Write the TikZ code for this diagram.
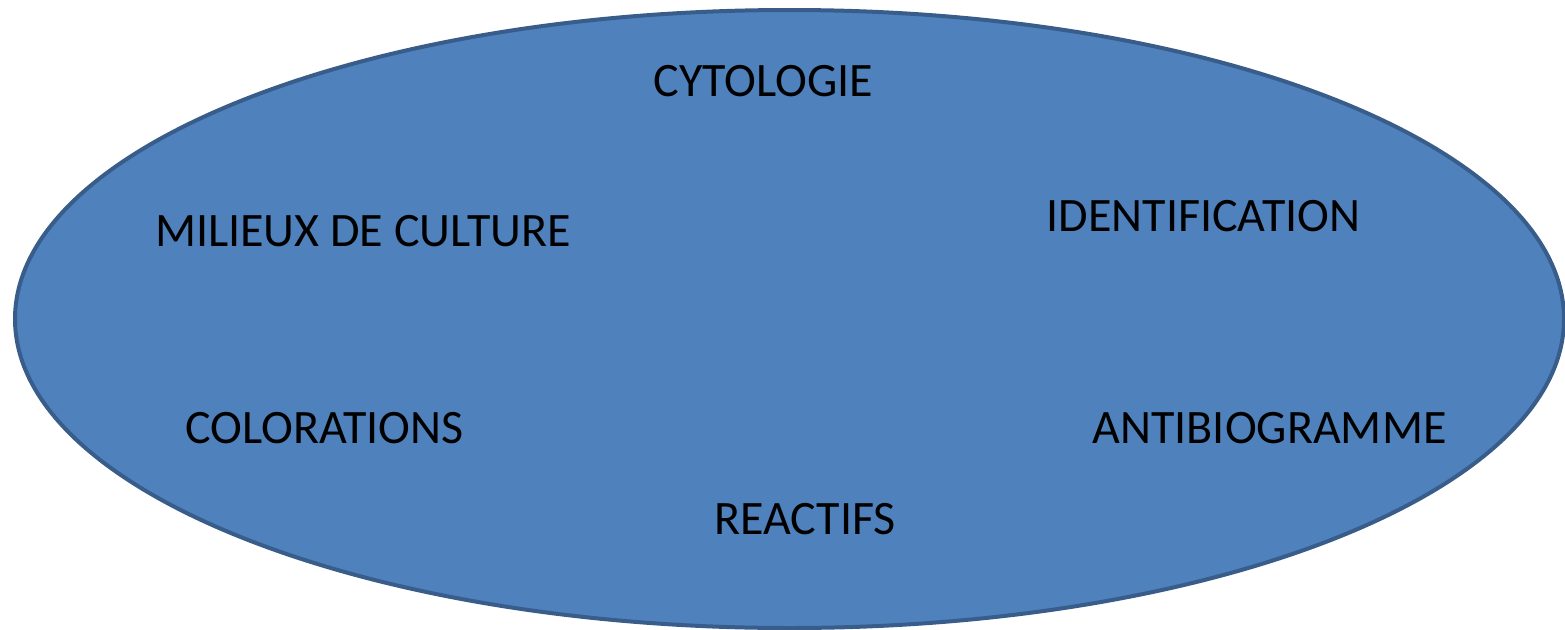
\documentclass[tikz,border=0pt]{standalone}
\usepackage{fontspec}
\setmainfont{Carlito}
\definecolor{ellfill}{HTML}{4F81BD}
\definecolor{elldraw}{HTML}{385D8A}
\begin{document}
\begin{tikzpicture}[x=1pt,y=1pt,
  lbl/.style={anchor=base,inner sep=0pt,font=\fontsize{48}{48}\selectfont,text=black}]
\useasboundingbox (0,0) rectangle (1565,-629);
\path[clip] (0,0) rectangle (1565,-629);
\draw[fill=ellfill,draw=elldraw,line width=4pt] (789.5,-319) ellipse [x radius=774.5,y radius=309];
\node[lbl] (cyto) at (763.5,-96) {CYTOLOGIE};
\node[lbl] (mil) at (363,-246) {MILIEUX DE CULTURE};
\node[lbl] (ident) at (1203.5,-231) {IDENTIFICATION};
\node[lbl] (color) at (324.5,-443) {COLORATIONS};
\node[lbl] (anti) at (1269.5,-443) {ANTIBIOGRAMME};
\node[lbl] (react) at (805,-534) {REACTIFS};
\end{tikzpicture}
\end{document}
